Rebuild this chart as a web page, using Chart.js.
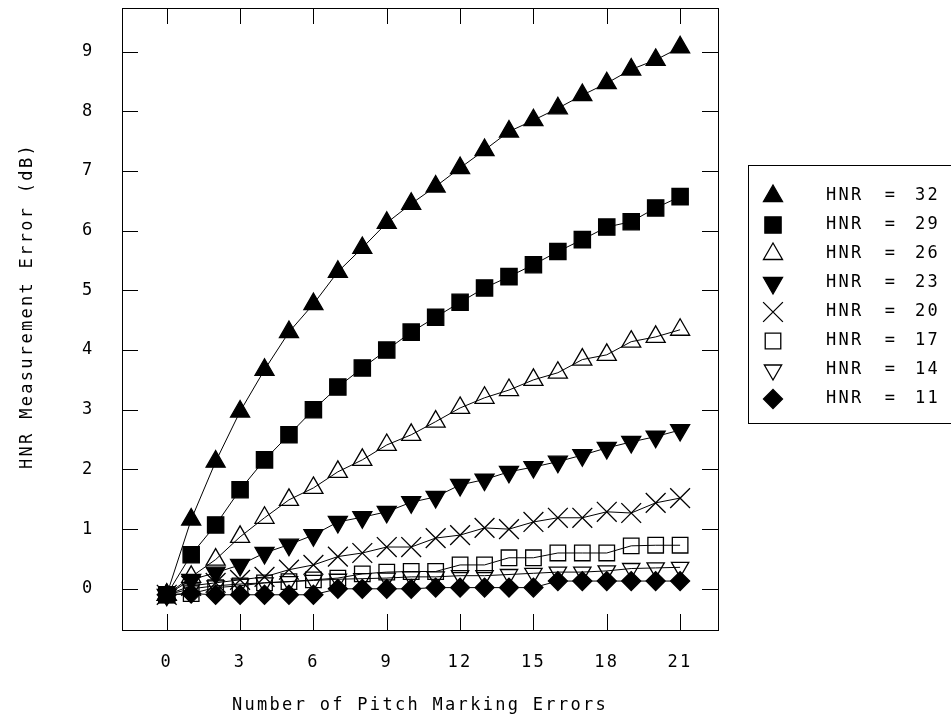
<!DOCTYPE html>
<html>
<head>
<meta charset="utf-8">
<script src="https://cdn.jsdelivr.net/npm/chart.js@4/dist/chart.umd.min.js"></script>
<style>
    html, body { margin: 0; padding: 0; background: #fff; }
    #wrap { width: 951px; height: 721px; }
</style>
</head>
<body>
<div id="wrap"><canvas id="hnrChart" width="951" height="721"></canvas></div>
<script>
// Pitch marking errors (x) and HNR measurement error in dB for each HNR level
const errorCounts = [0, 1, 2, 3, 4, 5, 6, 7, 8, 9, 10, 11, 12, 13, 14, 15, 16, 17, 18, 19, 20, 21];
const hnrLevels = [32, 29, 26, 23, 20, 17, 14, 11];

const hnr32 = [-0.1, 1.16, 2.13, 2.97, 3.67, 4.3, 4.77, 5.31, 5.71, 6.13, 6.45, 6.74, 7.05, 7.35, 7.66, 7.85, 8.05, 8.27, 8.47, 8.7, 8.86, 9.07];
const hnr29 = [-0.1, 0.57, 1.07, 1.66, 2.16, 2.58, 3.0, 3.38, 3.7, 4.0, 4.3, 4.55, 4.8, 5.04, 5.23, 5.43, 5.65, 5.85, 6.06, 6.15, 6.38, 6.57];
const hnr26 = [-0.1, 0.2, 0.49, 0.87, 1.19, 1.49, 1.69, 1.96, 2.16, 2.41, 2.58, 2.8, 3.03, 3.2, 3.33, 3.5, 3.62, 3.84, 3.92, 4.14, 4.22, 4.34];
const hnr23 = [-0.1, 0.15, 0.27, 0.4, 0.6, 0.74, 0.9, 1.12, 1.2, 1.29, 1.45, 1.54, 1.74, 1.83, 1.96, 2.04, 2.13, 2.24, 2.36, 2.46, 2.55, 2.66];
const hnr20 = [-0.1, 0.05, 0.1, 0.15, 0.2, 0.32, 0.4, 0.54, 0.6, 0.7, 0.7, 0.85, 0.9, 1.02, 1.0, 1.12, 1.19, 1.19, 1.29, 1.27, 1.44, 1.52];
const hnr17 = [-0.1, -0.08, 0.02, 0.05, 0.1, 0.12, 0.15, 0.18, 0.25, 0.28, 0.29, 0.29, 0.4, 0.4, 0.52, 0.52, 0.6, 0.6, 0.6, 0.72, 0.73, 0.73];
const hnr14 = [-0.1, 0.0, 0.05, 0.08, 0.1, 0.12, 0.14, 0.16, 0.17, 0.18, 0.2, 0.2, 0.22, 0.22, 0.24, 0.26, 0.28, 0.28, 0.3, 0.34, 0.35, 0.36];
const hnr11 = [-0.1, -0.08, -0.1, -0.1, -0.1, -0.1, -0.1, 0.0, 0.0, 0.0, 0.0, 0.02, 0.02, 0.02, 0.02, 0.02, 0.13, 0.13, 0.13, 0.13, 0.13, 0.13];

const xTicks = [0, 3, 6, 9, 12, 15, 18, 21];
const yTicks = [0, 1, 2, 3, 4, 5, 6, 7, 8, 9];

const FONT = '"DejaVu Sans Mono", "Liberation Mono", monospace';

// marker look for each series, same order as hnrLevels
const markers = [
    { pointStyle: 'triangle', rotation: 0, radius: 11, filled: true },
    { pointStyle: 'rect', rotation: 0, radius: 11.5, filled: true },
    { pointStyle: 'triangle', rotation: 0, radius: 11, filled: false },
    { pointStyle: 'triangle', rotation: 180, radius: 11, filled: true },
    { pointStyle: 'crossRot', rotation: 0, radius: 14, filled: false },
    { pointStyle: 'rect', rotation: 0, radius: 11, filled: false },
    { pointStyle: 'triangle', rotation: 180, radius: 10, filled: false },
    { pointStyle: 'rectRot', rotation: 0, radius: 9.5, filled: true }
];

const seriesValues = [hnr32, hnr29, hnr26, hnr23, hnr20, hnr17, hnr14, hnr11];

const datasets = seriesValues.map((vals, i) => ({
    label: 'HNR = ' + hnrLevels[i],
    data: errorCounts.map((x, j) => ({ x: x, y: vals[j] })),
    borderColor: '#000',
    borderWidth: 1,
    pointStyle: markers[i].pointStyle,
    pointRotation: markers[i].rotation,
    pointRadius: markers[i].radius,
    pointHoverRadius: markers[i].radius,
    pointBackgroundColor: markers[i].filled ? '#000' : 'rgba(0,0,0,0)',
    pointBorderColor: '#000',
    pointBorderWidth: 1.3,
    showLine: true,
    tension: 0,
    fill: false,
    order: -i
}));

function drawMarker(ctx, m, x, y) {
    ctx.save();
    ctx.fillStyle = m.filled ? '#000' : 'rgba(0,0,0,0)';
    ctx.strokeStyle = '#000';
    ctx.lineWidth = 1.3;
    if (Chart.helpers && Chart.helpers.drawPoint) {
        Chart.helpers.drawPoint(ctx, {
            pointStyle: m.pointStyle, rotation: m.rotation, radius: m.radius, borderWidth: 1.3
        }, x, y);
    }
    ctx.restore();
}

const framePlugin = {
    id: 'framePlugin',
    beforeDraw(chart) {
        chart.ctx.letterSpacing = '2.3px';
    },
    afterDraw(chart) {
        const ctx = chart.ctx;
        const a = chart.chartArea;
        const xs = chart.scales.x, ys = chart.scales.y;
        const tl = 16;
        ctx.save();
        ctx.strokeStyle = '#000';
        ctx.lineWidth = 1;
        ctx.strokeRect(Math.round(a.left) + 0.5, Math.round(a.top) + 0.5,
            Math.round(a.right - a.left), Math.round(a.bottom - a.top));
        ctx.beginPath();
        xTicks.forEach(v => {
            const px = Math.round(xs.getPixelForValue(v)) + 0.5;
            ctx.moveTo(px, a.bottom); ctx.lineTo(px, a.bottom - tl);
            ctx.moveTo(px, a.top); ctx.lineTo(px, a.top + tl);
        });
        yTicks.forEach(v => {
            const py = Math.round(ys.getPixelForValue(v)) + 0.5;
            ctx.moveTo(a.left, py); ctx.lineTo(a.left + tl, py);
            ctx.moveTo(a.right, py); ctx.lineTo(a.right - tl, py);
        });
        ctx.stroke();

        // axis titles
        ctx.fillStyle = '#000';
        ctx.font = '17px ' + FONT;
        ctx.letterSpacing = '2.3px';
        ctx.textAlign = 'center';
        ctx.textBaseline = 'middle';
        ctx.fillText('Number of Pitch Marking Errors', (a.left + a.right) / 2, 706);
        ctx.save();
        ctx.translate(28, 306);
        ctx.rotate(-Math.PI / 2);
        ctx.fillText('HNR Measurement Error (dB)', 0, 0);
        ctx.restore();

        // legend box
        ctx.strokeRect(748.5, 165.5, 215, 258);
        hnrLevels.forEach((lvl, i) => {
            const y = 196 + i * 29;
            drawMarker(ctx, markers[i], 773, y);
            ctx.fillStyle = '#000';
            ctx.textAlign = 'left';
            ctx.fillText('HNR', 826, y);
            ctx.textAlign = 'center';
            ctx.fillText('=', 891, y);
            ctx.textAlign = 'right';
            ctx.fillText(String(lvl), 940, y);
        });
        ctx.restore();
    }
};

new Chart(document.getElementById('hnrChart'), {
    type: 'scatter',
    data: { datasets: datasets },
    plugins: [framePlugin],
    options: {
        responsive: false,
        animation: false,
        devicePixelRatio: 1,
        layout: { autoPadding: false, padding: { left: 82, top: 8, right: 233, bottom: 0 } },
        plugins: {
            legend: { display: false },
            tooltip: { enabled: false }
        },
        scales: {
            x: {
                type: 'linear',
                min: -1.83,
                max: 22.55,
                afterBuildTicks: s => { s.ticks = xTicks.map(v => ({ value: v })); },
                afterFit: s => { s.height = 91; s.paddingLeft = 0; s.paddingRight = 0; },
                grid: { display: false, drawTicks: false },
                border: { display: false },
                ticks: {
                    color: '#000',
                    padding: 22,
                    maxRotation: 0,
                    autoSkip: false,
                    font: { family: FONT, size: 17 }
                }
            },
            y: {
                type: 'linear',
                min: -0.69,
                max: 9.73,
                afterBuildTicks: s => { s.ticks = yTicks.map(v => ({ value: v })); },
                afterFit: s => { s.width = 40; s.paddingTop = 0; s.paddingBottom = 0; },
                grid: { display: false, drawTicks: false },
                border: { display: false },
                ticks: {
                    color: '#000',
                    padding: 0,
                    crossAlign: 'far',
                    autoSkip: false,
                    font: { family: FONT, size: 17 }
                }
            }
        }
    }
});
</script>
</body>
</html>
